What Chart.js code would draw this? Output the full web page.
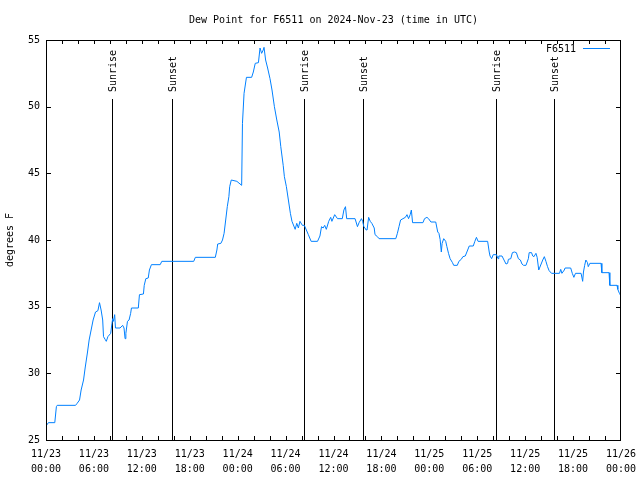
<!DOCTYPE html>
<html>
<head>
<meta charset="utf-8">
<script src="https://cdn.jsdelivr.net/npm/chart.js@4.4.0/dist/chart.umd.min.js"></script>
<style>
  body { margin: 0; background: #fff; }
  canvas { display: block; }
</style>
</head>
<body>
<canvas id="chart" width="640" height="480"></canvas>
<script>
// hours since 2024-11-23 00:00 UTC
var hours = [
  0, 0.3, 1.1, 1.3, 1.4, 3.7, 3.9, 4.2, 4.4, 4.7, 4.9, 5.2, 5.4, 5.7, 5.9, 6.2, 6.5, 6.7, 6.9, 7.1,
  7.2, 7.4, 7.55, 7.75, 8.1, 8.26, 8.35, 8.45, 8.6, 8.7, 9.27, 9.6, 9.77, 9.9, 10.0, 10.2, 10.4, 10.6, 10.7, 11.56,
  11.7, 12.2, 12.3, 12.5, 12.8, 12.95, 13.2, 14.3, 14.5, 18.5, 18.7, 21.2, 21.4, 21.5, 21.9, 22.1, 22.3, 22.5, 22.7, 22.9,
  23.0, 23.2, 23.9, 24.5, 24.6, 24.8, 25.1, 25.75, 25.96, 26.2, 26.6, 26.8, 27.0, 27.2, 27.3, 27.5, 27.75, 28.05, 28.3, 28.6,
  28.9, 29.2, 29.4, 29.7, 29.85, 30.1, 30.35, 30.6, 30.8, 31.2, 31.4, 31.6, 31.8, 32.1, 32.35, 32.6, 32.85, 33.2, 34.0, 34.3,
  34.5, 34.7, 34.9, 35.1, 35.4, 35.65, 35.8, 36.15, 36.5, 37.1, 37.3, 37.5, 37.65, 38.7, 39.0, 39.2, 39.5, 39.65, 39.8, 40.1,
  40.2, 40.4, 40.6, 40.8, 41.1, 41.2, 41.5, 41.7, 43.8, 44.0, 44.2, 44.4, 44.7, 45.0, 45.2, 45.4, 45.6, 45.75, 45.9, 47.2,
  47.4, 47.7, 47.9, 48.2, 48.8, 49.05, 49.2, 49.35, 49.5, 49.6, 49.8, 50.05, 50.2, 50.4, 50.6, 50.9, 51.05, 51.5, 51.7, 52.0,
  52.2, 52.5, 52.7, 53.0, 53.5, 53.7, 53.9, 54.1, 55.3, 55.5, 55.6, 55.8, 56.0, 56.4, 56.6, 56.7, 57.1, 57.35, 57.6, 57.8,
  57.9, 58.2, 58.4, 58.65, 58.9, 59.15, 59.4, 59.6, 59.8, 60.1, 60.4, 60.5, 60.8, 60.95, 61.1, 61.35, 61.5, 61.7, 61.9, 62.2,
  62.4, 62.6, 62.8, 63.0, 63.3, 64.3, 64.45, 64.6, 64.9, 65.0, 65.7, 65.9, 66.1, 66.3, 67.0, 67.2, 67.3, 67.45, 67.6, 67.8,
  67.9, 68.1, 69.5, 69.6, 70.5, 70.6, 71.5, 71.6, 71.8, 72.0
];
var dewPoint = [
  26.05, 26.3, 26.3, 27.5, 27.6, 27.6, 27.75, 28.0, 28.75, 29.5, 30.4, 31.6, 32.5, 33.4, 34.0, 34.6, 34.7, 35.3, 34.75, 34.0,
  32.75, 32.55, 32.4, 32.75, 33.0, 33.75, 34.1, 33.9, 34.4, 33.4, 33.4, 33.6, 33.4, 32.6, 33.0, 33.9, 34.0, 34.5, 34.9, 34.9,
  35.9, 35.95, 36.6, 37.1, 37.15, 37.75, 38.15, 38.15, 38.4, 38.4, 38.7, 38.7, 39.25, 39.7, 39.75, 40.0, 40.5, 41.5, 42.5, 43.25,
  44.0, 44.5, 44.4, 44.1, 48.75, 51.0, 52.2, 52.2, 52.6, 53.25, 53.3, 54.4, 54.0, 54.25, 54.45, 53.5, 52.9, 52.1, 51.25, 50.0,
  49.0, 48.1, 47.0, 45.6, 44.75, 44.0, 43.0, 42.0, 41.4, 40.8, 41.25, 40.9, 41.4, 41.1, 41.1, 40.75, 40.4, 39.9, 39.9, 40.3,
  41.0, 40.9, 41.1, 40.8, 41.4, 41.7, 41.4, 41.9, 41.6, 41.6, 42.25, 42.5, 41.6, 41.6, 41.0, 41.3, 41.6, 41.4, 41.0, 40.75,
  40.75, 41.7, 41.4, 41.25, 40.9, 40.4, 40.25, 40.1, 40.1, 40.5, 41.0, 41.5, 41.6, 41.7, 41.9, 41.6, 41.9, 42.25, 41.3, 41.3,
  41.6, 41.7, 41.6, 41.35, 41.35, 40.6, 40.5, 40.05, 39.1, 39.75, 40.1, 39.9, 39.5, 39.0, 38.6, 38.3, 38.1, 38.1, 38.4, 38.55,
  38.75, 38.8, 39.1, 39.55, 39.55, 39.9, 40.2, 39.9, 39.9, 39.1, 38.8, 38.6, 38.9, 38.9, 38.6, 38.8, 38.8, 38.5, 38.2, 38.25,
  38.55, 38.6, 39.05, 39.1, 39.05, 38.6, 38.5, 38.2, 38.1, 38.1, 38.6, 39.05, 39.05, 38.8, 38.75, 39.0, 38.7, 37.75, 38.05, 38.5,
  38.75, 38.4, 38.0, 37.7, 37.5, 37.5, 37.8, 37.5, 37.75, 37.9, 37.9, 37.5, 37.2, 37.5, 37.5, 36.9, 37.6, 38.1, 38.5, 38.3,
  38.0, 38.25, 38.25, 37.55, 37.55, 36.6, 36.6, 36.3, 36.0, 35.8
];

var xTickLabels = [
  ['11/23', '00:00'], ['11/23', '06:00'], ['11/23', '12:00'], ['11/23', '18:00'],
  ['11/24', '00:00'], ['11/24', '06:00'], ['11/24', '12:00'], ['11/24', '18:00'],
  ['11/25', '00:00'], ['11/25', '06:00'], ['11/25', '12:00'], ['11/25', '18:00'],
  ['11/26', '00:00']
];

var sunHours = [8.26, 15.8, 32.35, 39.74, 56.39, 63.65];
var sunLabels = ['Sunrise', 'Sunset', 'Sunrise', 'Sunset', 'Sunrise', 'Sunset'];

var titleText = 'Dew Point for F6511 on 2024-Nov-23 (time in UTC)';
var lineColor = 'rgb(0, 128, 255)';
var monoFont = '"DejaVu Sans Mono", "Liberation Mono", monospace';

Chart.defaults.font.family = monoFont;
Chart.defaults.font.size = 10;
Chart.defaults.color = '#000';

var points = hours.map((h, i) => ({ x: h, y: dewPoint[i] }));

// gnuplot style title, frame, inward ticks, sun lines and legend
var decorations = {
  id: 'decorations',
  beforeDatasetsDraw(chart) {
    var ctx = chart.ctx, a = chart.chartArea, x = chart.scales.x;
    ctx.save();
    ctx.strokeStyle = '#000';
    ctx.fillStyle = '#000';
    ctx.lineWidth = 1;
    ctx.font = '10px ' + monoFont;

    ctx.textAlign = 'center';
    ctx.textBaseline = 'middle';
    ctx.fillText(titleText, (a.left + a.right) / 2, 20);

    sunHours.forEach((h, i) => {
      var px = Math.round(x.getPixelForValue(h)) + 0.5;
      ctx.beginPath();
      ctx.moveTo(px, a.top + 59);
      ctx.lineTo(px, a.bottom);
      ctx.stroke();
      ctx.save();
      ctx.translate(px + 1, a.top + 52);
      ctx.rotate(-Math.PI / 2);
      ctx.textAlign = 'left';
      ctx.textBaseline = 'middle';
      ctx.fillText(sunLabels[i], 0, 0);
      ctx.restore();
    });
    ctx.restore();
  },
  afterDatasetsDraw(chart) {
    var ctx = chart.ctx, a = chart.chartArea, x = chart.scales.x, y = chart.scales.y;
    ctx.save();
    ctx.strokeStyle = '#000';
    ctx.lineWidth = 1;
    ctx.beginPath();
    for (var h = 2; h < 72; h += 2) {
      var px = Math.round(x.getPixelForValue(h)) + 0.5;
      ctx.moveTo(px, a.bottom); ctx.lineTo(px, a.bottom - 4);
      ctx.moveTo(px, a.top); ctx.lineTo(px, a.top + 4);
    }
    for (var v = 30; v < 55; v += 5) {
      var py = Math.round(y.getPixelForValue(v)) + 0.5;
      ctx.moveTo(a.left, py); ctx.lineTo(a.left + 5, py);
      ctx.moveTo(a.right, py); ctx.lineTo(a.right - 5, py);
    }
    ctx.stroke();
    ctx.strokeRect(Math.round(a.left) + 0.5, Math.round(a.top) + 0.5,
      Math.round(a.width) - 1, Math.round(a.height));

    // legend
    ctx.font = '10px ' + monoFont;
    ctx.fillStyle = '#000';
    ctx.textAlign = 'right';
    ctx.textBaseline = 'middle';
    ctx.fillText(chart.data.datasets[0].label, a.right - 45, a.top + 9);
    ctx.strokeStyle = lineColor;
    ctx.beginPath();
    ctx.moveTo(a.right - 38, a.top + 8.5);
    ctx.lineTo(a.right - 11, a.top + 8.5);
    ctx.stroke();
    ctx.restore();
  }
};

new Chart(document.getElementById('chart').getContext('2d'), {
  type: 'line',
  data: {
    datasets: [{
      label: 'F6511',
      data: points,
      borderColor: lineColor,
      borderWidth: 1,
      pointRadius: 0,
      tension: 0,
      fill: false
    }]
  },
  options: {
    responsive: false,
    animation: false,
    layout: { padding: { left: 0, right: 19, top: 40, bottom: 0 } },
    plugins: {
      legend: { display: false },
      tooltip: { enabled: false },
      title: { display: false }
    },
    scales: {
      x: {
        type: 'linear',
        min: 0,
        max: 72,
        afterFit: (s) => { s.height = 40; s.paddingLeft = 0; s.paddingRight = 0; },
        grid: { display: false, drawTicks: false },
        border: { display: false },
        ticks: {
          stepSize: 6,
          autoSkip: false,
          maxRotation: 0,
          padding: 7,
          font: { size: 10, lineHeight: 1.5 },
          callback: (v) => xTickLabels[Math.round(v / 6)]
        }
      },
      y: {
        min: 25,
        max: 55,
        afterFit: (s) => { s.width = 46; s.paddingTop = 0; s.paddingBottom = 0; },
        grid: { display: false, drawTicks: false },
        border: { display: false },
        ticks: { stepSize: 5, padding: 6, font: { size: 10 } },
        title: {
          display: true,
          text: 'degrees F',
          font: { size: 10 },
          padding: { top: 4, bottom: 0 }
        }
      }
    }
  },
  plugins: [decorations]
});
</script>
</body>
</html>
